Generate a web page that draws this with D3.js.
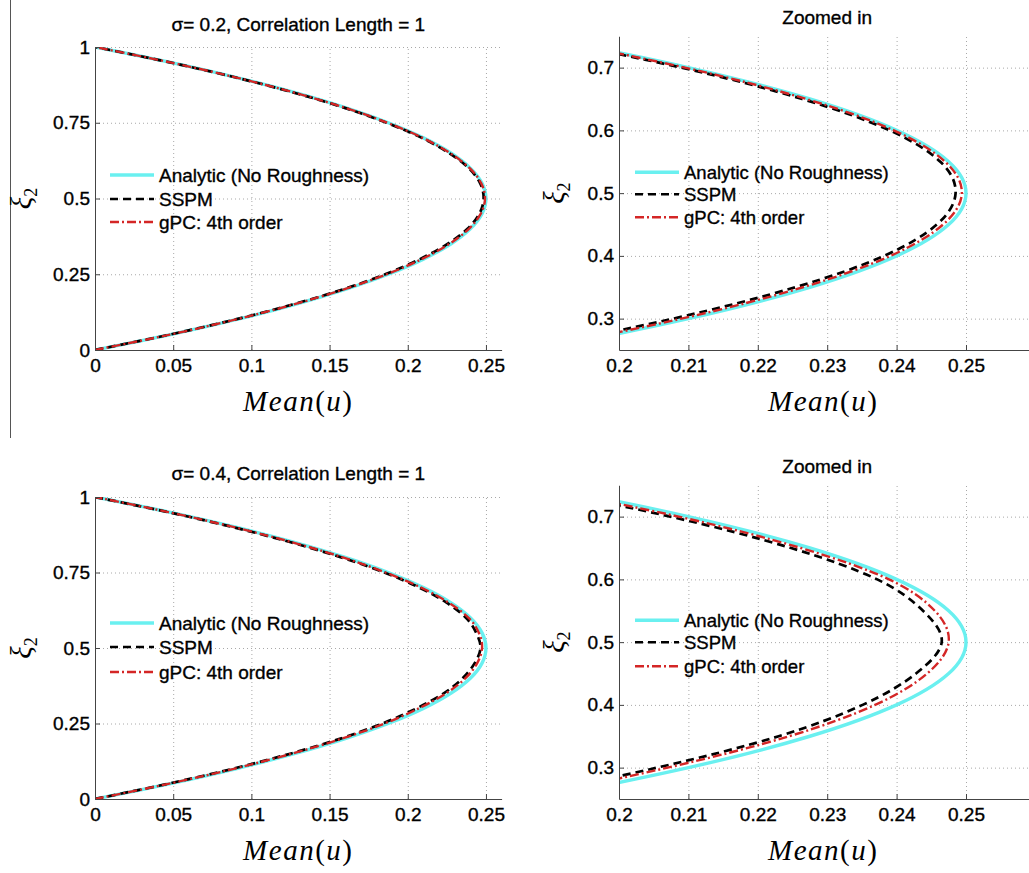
<!DOCTYPE html>
<html lang="en">
<head>
    <meta charset="UTF-8">
    <title>Mean(u) vs xi2</title>
    <script src="https://d3js.org/d3.v7.min.js"></script>
    <style>
        body { margin: 0; background: #fff; }
        svg { display: block; font-family: "Liberation Sans", Arial, sans-serif; }
        .tick text { fill: #000; }
        .sans { stroke: #000; stroke-width: 0.35px; paint-order: stroke; }
        .grid line { stroke: #a8a8a8; stroke-dasharray: 1,3; }
        .grid path { display: none; }
    </style>
</head>
<body>
    <div id="chart"></div>

    <script>
        const xi = [0, 0.05, 0.1, 0.15, 0.2, 0.25, 0.3, 0.35, 0.4, 0.45, 0.5,
                    0.55, 0.6, 0.65, 0.7, 0.75, 0.8, 0.85, 0.9, 0.95, 1];

        // Mean(u) values
        const analytic = [0, 0.0475, 0.09, 0.1275, 0.16, 0.1875, 0.21, 0.2275, 0.24, 0.2475, 0.25,
                          0.2475, 0.24, 0.2275, 0.21, 0.1875, 0.16, 0.1275, 0.09, 0.0475, 0];
        const sspm02 = [0, 0.047, 0.0892, 0.1262, 0.1585, 0.1855, 0.2078, 0.2254, 0.2382, 0.2458, 0.2485,
                        0.2463, 0.239, 0.2264, 0.209, 0.1865, 0.1592, 0.1267, 0.0895, 0.0472, 0];
        const gpc02 = [0, 0.0472, 0.0895, 0.1268, 0.1592, 0.1866, 0.209, 0.2265, 0.2391, 0.2467, 0.2494,
                       0.247, 0.2396, 0.227, 0.2095, 0.187, 0.1596, 0.1271, 0.0897, 0.0473, 0];
        const sspm04 = [0, 0.0463, 0.088, 0.1248, 0.157, 0.1838, 0.2055, 0.223, 0.2351, 0.2428, 0.2465,
                        0.2438, 0.2372, 0.2248, 0.2074, 0.185, 0.1575, 0.1252, 0.0884, 0.0466, 0];
        const gpc04 = [0, 0.0468, 0.0888, 0.1259, 0.158, 0.1852, 0.207, 0.2245, 0.2369, 0.2444, 0.2475,
                       0.2455, 0.2389, 0.2262, 0.2086, 0.1858, 0.1585, 0.1262, 0.089, 0.0469, 0];

        const fullXTicks = [0, 0.05, 0.1, 0.15, 0.2, 0.25];
        const fullYTicks = [0, 0.25, 0.5, 0.75, 1];
        const zoomXTicks = [0.2, 0.21, 0.22, 0.23, 0.24, 0.25];
        const zoomYTicks = [0.3, 0.4, 0.5, 0.6, 0.7];

        const legendLabels = ["Analytic (No Roughness)", "SSPM", "gPC: 4th order"];
        const titles = ["σ= 0.2, Correlation Length = 1", "Zoomed in",
                        "σ= 0.4, Correlation Length = 1", "Zoomed in"];

        const styles = [
            { stroke: "#6af0f0", width: 3.4, dash: null },
            { stroke: "#000", width: 2.7, dash: "8,5" },
            { stroke: "#d42626", width: 2.4, dash: "9,3,2,3" }
        ];

        const svg = d3.select("#chart").append("svg")
            .attr("width", 1029)
            .attr("height", 873);

        // stray frame line on the left of the top row
        svg.append("line")
            .attr("x1", 10.5).attr("x2", 10.5)
            .attr("y1", 0).attr("y2", 438)
            .attr("stroke", "#555").attr("stroke-width", 1);

        const panels = [
            { left: 95, top: 47, width: 406.6, height: 303, xDomain: [0, 0.26], yDomain: [0, 1],
              xTicks: fullXTicks, yTicks: fullYTicks, series: [analytic, sspm02, gpc02],
              title: titles[0], titleUp: 16, legX: 15, legRows: [128, 152, 175], legFont: 19 },
            { left: 619, top: 36.25, width: 416.4, height: 313.75, xDomain: [0.2, 0.26], yDomain: [0.25, 0.75],
              xTicks: zoomXTicks, yTicks: zoomYTicks, series: [analytic, sspm02, gpc02],
              title: titles[1], titleUp: 12.5, legX: 16, legRows: [136, 158, 181], legFont: 18.5 },
            { left: 95, top: 497, width: 406.6, height: 302, xDomain: [0, 0.26], yDomain: [0, 1],
              xTicks: fullXTicks, yTicks: fullYTicks, series: [analytic, sspm04, gpc04],
              title: titles[2], titleUp: 17, legX: 15, legRows: [126, 150, 175], legFont: 19 },
            { left: 619, top: 485.25, width: 416.4, height: 313.75, xDomain: [0.2, 0.26], yDomain: [0.25, 0.75],
              xTicks: zoomXTicks, yTicks: zoomYTicks, series: [analytic, sspm04, gpc04],
              title: titles[3], titleUp: 12.5, legX: 16, legRows: [135, 157, 181], legFont: 18.5 }
        ];

        const fmt = d3.format("~g");

        panels.forEach((p, i) => {
            const g = svg.append("g").attr("transform", `translate(${p.left},${p.top})`);
            const x = d3.scaleLinear().domain(p.xDomain).range([0, p.width]);
            const y = d3.scaleLinear().domain(p.yDomain).range([p.height, 0]);

            // grid
            g.append("g").attr("class", "grid")
                .attr("transform", `translate(0,${p.height})`)
                .call(d3.axisBottom(x).tickValues(p.xTicks).tickSize(-p.height).tickFormat(""));
            g.append("g").attr("class", "grid")
                .call(d3.axisLeft(y).tickValues(p.yTicks).tickSize(-p.width).tickFormat(""));

            // curves
            g.append("clipPath").attr("id", "clip" + i)
                .append("rect").attr("width", p.width).attr("height", p.height);

            const line = d3.line()
                .x(d => x(d.u))
                .y(d => y(d.xi))
                .curve(d3.curveCatmullRom.alpha(0));

            p.series.forEach((vals, k) => {
                const pts = vals.map((u, j) => ({ u: u, xi: xi[j] }));
                g.append("path")
                    .datum(pts)
                    .attr("clip-path", `url(#clip${i})`)
                    .attr("fill", "none")
                    .attr("stroke", styles[k].stroke)
                    .attr("stroke-width", styles[k].width)
                    .attr("stroke-dasharray", styles[k].dash)
                    .attr("d", line);
            });

            // axes
            const xAxis = g.append("g")
                .attr("transform", `translate(0,${p.height})`)
                .call(d3.axisBottom(x).tickValues(p.xTicks).tickFormat(fmt)
                    .tickSizeInner(-5).tickSizeOuter(0).tickPadding(9));
            const yAxis = g.append("g")
                .call(d3.axisLeft(y).tickValues(p.yTicks).tickFormat(fmt)
                    .tickSizeInner(-5).tickSizeOuter(0).tickPadding(5));
            [xAxis, yAxis].forEach(a => {
                a.selectAll("text").attr("class", "sans").style("font-size", "19px");
                a.select(".domain").attr("stroke", "#444");
                a.selectAll(".tick line").attr("stroke", "#444");
            });

            // title
            g.append("text")
                .attr("class", "sans")
                .attr("x", p.width / 2)
                .attr("y", -p.titleUp)
                .attr("text-anchor", "middle")
                .style("font-size", "19px")
                .text(p.title);

            // x label: Mean(u)
            const xl = g.append("text")
                .attr("x", p.width / 2 - (i % 2 ? 4 : 0))
                .attr("y", p.height + 61)
                .attr("text-anchor", "middle")
                .style("font-family", "'Liberation Serif', 'Times New Roman', serif")
                .style("font-size", "29px")
                .style("letter-spacing", "1.5px");
            xl.append("tspan").style("font-style", "italic").text("Mean");
            xl.append("tspan").text("(");
            xl.append("tspan").style("font-style", "italic").text("u");
            xl.append("tspan").text(")");

            // y label: xi_2
            const yl = g.append("text")
                .attr("transform", `translate(${(i % 2 ? 564 : 31) - p.left},${y(0.5)}) rotate(-90)`)
                .attr("text-anchor", "middle")
                .style("font-family", "'Liberation Serif', 'Times New Roman', serif")
                .style("font-size", "29px");
            yl.append("tspan").style("font-style", "italic").text("ξ");
            yl.append("tspan").attr("dy", 6).style("font-size", "18px").text("2");

            // legend
            const leg = g.append("g");
            legendLabels.forEach((lab, k) => {
                const ly = p.legRows[k];
                leg.append("line")
                    .attr("x1", p.legX).attr("x2", p.legX + 44)
                    .attr("y1", ly).attr("y2", ly)
                    .attr("stroke", styles[k].stroke)
                    .attr("stroke-width", styles[k].width)
                    .attr("stroke-dasharray", styles[k].dash);
                leg.append("text")
                    .attr("class", "sans")
                    .attr("x", p.legX + 49)
                    .attr("y", ly)
                    .attr("dy", "0.35em")
                    .style("font-size", p.legFont + "px")
                    .text(lab);
            });
        });
    </script>
</body>
</html>
